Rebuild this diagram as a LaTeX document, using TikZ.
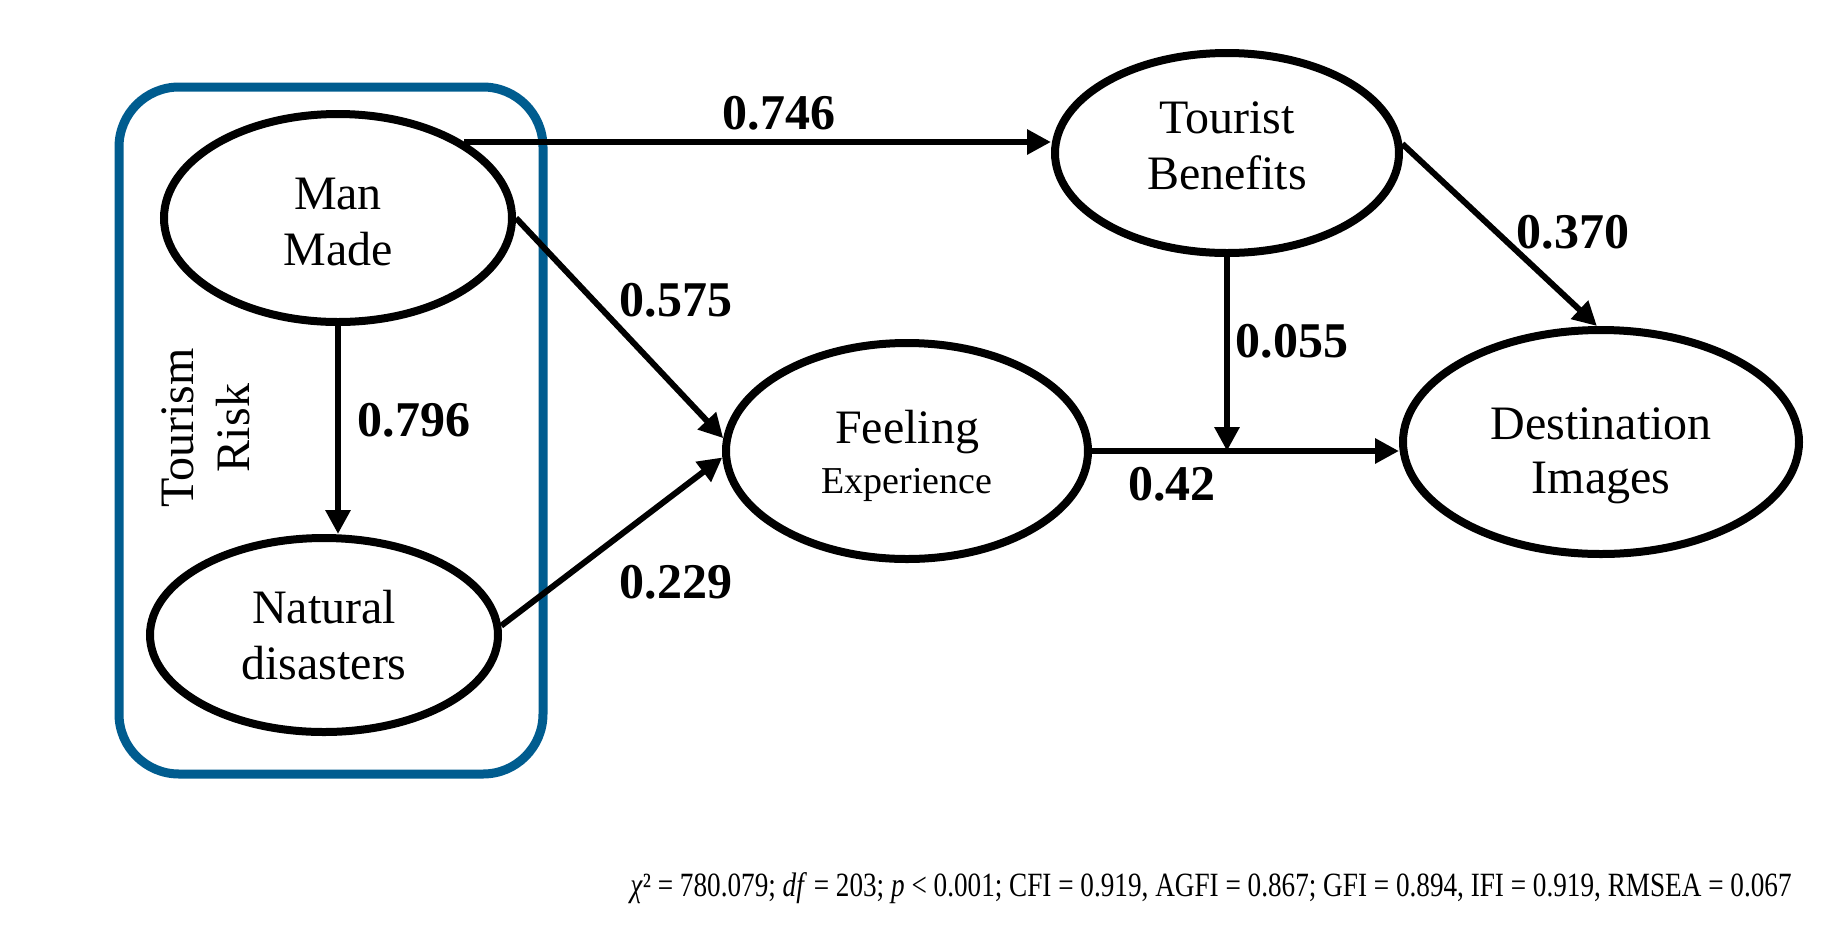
\documentclass[tikz,border=0pt]{standalone}
\usepackage{fontspec}
\setmainfont{Liberation Serif}
\usetikzlibrary{arrows.meta,shapes.geometric,calc}
\definecolor{riskblue}{RGB}{0,92,143}
\begin{document}
\begin{tikzpicture}[x=0.5pt,y=-0.5pt,
  latent/.style={ellipse, draw, line width=4pt, inner sep=0pt, align=center,
    font=\fontsize{24}{28}\selectfont},
  arr/.style={line width=3pt, -{Triangle[length=12pt,width=12pt]}},
  coef/.style={font=\fontsize{25}{30}\selectfont\bfseries, inner sep=0pt},
  riskbox/.style={draw=riskblue, line width=4.5pt, rounded corners=30pt}]
\useasboundingbox (0,0) rectangle (1843,933);

% group box
\draw[riskbox] (119,87) rectangle (543,774);
\node[rotate=90, align=center, font=\fontsize{24}{28}\selectfont] (TR) at (206,428) {Tourism\\Risk};

% latent variables
\node[latent, minimum width=174pt, minimum height=104pt] (MM) at (338,218) {\rule{0pt}{20pt}Man\\Made};
\node[latent, minimum width=174pt, minimum height=97pt] (ND) at (324,635) {Natural\\disasters};
\node[latent, minimum width=181pt, minimum height=108pt] (FE) at (907,451)
  {\rule{0pt}{21.5pt}Feeling\\[-3pt]{\fontsize{19}{22}\selectfont Experience}};
\node[latent, minimum width=172pt, minimum height=100pt] (TB) at (1227,153) {Tourist\\Benefits\rule[-7pt]{0pt}{7pt}};
\node[latent, minimum width=198pt, minimum height=112pt] (DI) at (1601,442) {\rule{0pt}{29.5pt}Destination\\[-1pt]Images};

% paths
\draw[arr] (MM.31) -- (MM.31 -| TB.west);
\draw[arr] (MM.east) -- (FE.176);
\draw[arr] (MM.south) -- (MM.south |- ND.north);
\draw[arr] (ND.3) -- (FE.182);
\draw[arr] (TB.3) -- (DI.92);
\coordinate (J) at (TB.south |- FE.east);
\draw[arr] (FE.east) -- (FE.east -| DI.west);
\draw[arr] (TB.south) -- (J);

% coefficients
\node[coef] (c746) at (779,113) {0.746};
\node[coef] (c575) at (676,300) {0.575};
\node[coef] (c796) at (414,420) {0.796};
\node[coef] (c229) at (676,582) {0.229};
\node[coef] (c370) at (1573,232) {0.370};
\node[coef] (c055) at (1292,341) {0.055};
\node[coef] (c42) at (1172,484) {0.42};

% fit indices
\node[inner sep=0pt] (fit) at (1211,888)
  {\scalebox{0.8}[1]{\fontsize{17}{20}\selectfont \textit{χ}² = 780.079; \textit{df} = 203; \textit{p} < 0.001; CFI = 0.919, AGFI = 0.867; GFI = 0.894, IFI = 0.919, RMSEA = 0.067}};
\end{tikzpicture}
\end{document}
